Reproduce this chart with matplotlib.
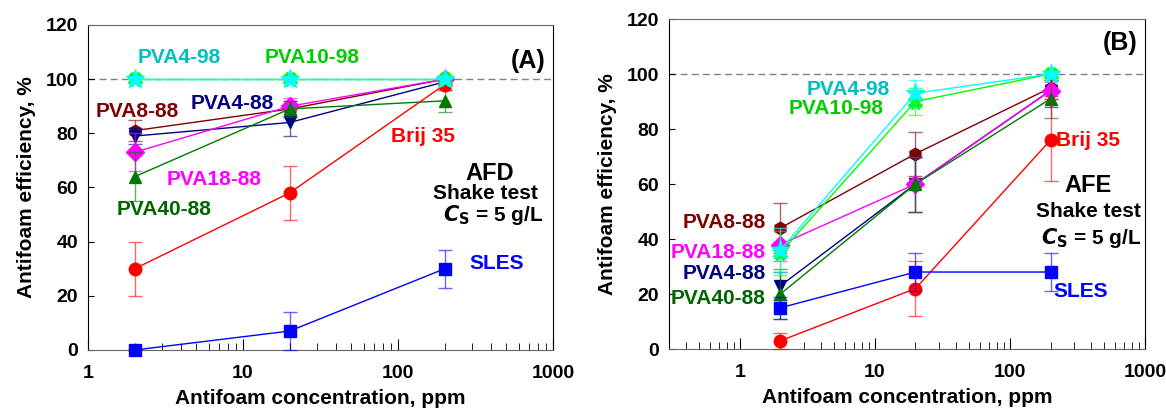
import matplotlib
matplotlib.use("Agg")
import matplotlib.pyplot as plt
from matplotlib.colors import to_rgba

plt.rcParams['font.family'] = ['Liberation Sans', 'DejaVu Sans']
plt.rcParams['font.weight'] = 'bold'

conc = [2, 20, 200]

names = ["PVA8-88", "PVA4-88", "PVA18-88", "PVA40-88", "Brij 35", "SLES", "PVA10-98", "PVA4-98"]
colors = ["#800000", "#000080", "#ff00ff", "#007a00", "#ff0000", "#0000ff", "#00ff00", "#00ffff"]
text_colors = ["#800000", "#000080", "#ff00ff", "#006400", "#ff0000", "#0000ff", "#00cc00", "#00bfbf"]
markers = ["h", "v", "D", "^", "o", "s", "X", "*"]

# panel A (AFD)
afd = {
    "PVA8-88": [81, 89, 100],
    "PVA4-88": [79, 84, 99],
    "PVA18-88": [73, 90, 100],
    "PVA40-88": [64, 89, 92],
    "Brij 35": [30, 58, 98],
    "SLES": [0, 7, 30],
    "PVA10-98": [100, 100, 100],
    "PVA4-98": [100, 100, 100],
}
afd_err = {
    "PVA8-88": [4, 3, 0],
    "PVA4-88": [3, 5, 0],
    "PVA18-88": [7, 3, 0],
    "PVA40-88": [9, 3, 4],
    "Brij 35": [10, 10, 2],
    "SLES": [0, 7, 7],
    "PVA10-98": [0, 0, 0],
    "PVA4-98": [0, 0, 0],
}

# panel B (AFE)
afe = {
    "PVA8-88": [44, 71, 95],
    "PVA4-88": [23, 60, 94],
    "PVA18-88": [38, 60, 94],
    "PVA40-88": [20, 60, 91],
    "Brij 35": [3, 22, 76],
    "SLES": [15, 28, 28],
    "PVA10-98": [35, 90, 100],
    "PVA4-98": [36, 93, 100],
}
afe_err = {
    "PVA8-88": [9, 8, 3],
    "PVA4-88": [5, 10, 6],
    "PVA18-88": [6, 10, 3],
    "PVA40-88": [9, 10, 7],
    "Brij 35": [3, 10, 15],
    "SLES": [4, 7, 7],
    "PVA10-98": [8, 5, 0],
    "PVA4-98": [8, 5, 0],
}

# label positions (x, y, ha)
afd_labels = {
    "PVA4-98": (3.9, 108, "center"),
    "PVA10-98": (28, 108, "center"),
    "PVA8-88": (2.07, 88, "center"),
    "PVA4-88": (8.5, 91, "center"),
    "Brij 35": (145, 79, "center"),
    "PVA18-88": (6.5, 63, "center"),
    "PVA40-88": (3.1, 52, "center"),
    "SLES": (436, 32, "center"),
}
afe_labels = {
    "PVA4-98": (6.35, 94.5, "center"),
    "PVA10-98": (5.2, 87.5, "center"),
    "PVA8-88": (0.77, 46, "center"),
    "PVA18-88": (0.69, 35, "center"),
    "PVA4-88": (0.77, 27.5, "center"),
    "PVA40-88": (0.69, 18.5, "center"),
    "Brij 35": (221, 76, "left"),
    "SLES": (209, 21, "left"),
}

fig = plt.figure(figsize=(11.66, 4.17), dpi=100)
axA = fig.add_axes([0.0755, 0.1607, 0.3988, 0.7794])
axB = fig.add_axes([0.5738, 0.163, 0.4082, 0.7914])


def draw(ax, data, err, labels, xmin):
    ax.set_xscale('log')
    ax.set_xlim(xmin, 1000)
    ax.set_ylim(0, 120)
    ax.axhline(100, color='gray', ls=(0, (5, 3)), lw=1, zorder=1)
    for i, n in enumerate(names):
        ms = 14 if markers[i] == '*' else (10 if markers[i] == 'X' else 9)
        ax.errorbar(conc, data[n], yerr=err[n], color=colors[i], lw=1,
                    marker=markers[i], ms=ms, mec=colors[i], capsize=5,
                    elinewidth=1, ecolor=to_rgba(colors[i], 0.6), zorder=3 + i,
                    clip_on=False)
    for i, n in enumerate(names):
        x, y, ha = labels[n]
        ax.text(x, y, n, color=text_colors[i], fontsize=15, fontweight='bold',
                ha=ha, va='center', zorder=20)
    ax.set_yticks([0, 20, 40, 60, 80, 100, 120])
    ax.set_xticks([1, 10, 100, 1000])
    ax.set_xticklabels(["1", "10", "100", "1000"])
    ax.tick_params(axis='both', which='both', direction='in', labelsize=14)
    ax.tick_params(axis='x', which='major', length=8, pad=11)
    ax.tick_params(axis='x', which='minor', length=5)
    ax.tick_params(axis='y', length=4, pad=7)
    for s in ['top', 'bottom']:
        ax.spines[s].set_color('#666666')
    ax.set_xlabel("Antifoam concentration, ppm", fontsize=15, fontweight='bold', labelpad=5)
    ax.set_ylabel("Antifoam efficiency, %", fontsize=15, fontweight='bold', labelpad=7)


draw(axA, afd, afd_err, afd_labels, 1)
draw(axB, afe, afe_err, afe_labels, 0.3)

axA.text(0.983, 0.889, "(A)", transform=axA.transAxes, fontsize=18, fontweight='bold',
         ha='right', va='center')
axA.text(392, 65, "AFD", fontsize=17, fontweight='bold', ha='center', va='center')
axA.text(365, 57.6, "Shake test", fontsize=15, fontweight='bold', ha='center', va='center')
axA.text(409, 50, "$\\mathbf{\\mathit{C}_S}$ = 5 g/L", fontsize=15, fontweight='bold',
         ha='center', va='center')

axB.text(0.985, 0.927, "(B)", transform=axB.transAxes, fontsize=18, fontweight='bold',
         ha='right', va='center')
axB.text(381, 59.6, "AFE", fontsize=17, fontweight='bold', ha='center', va='center')
axB.text(381, 50, "Shake test", fontsize=15, fontweight='bold', ha='center', va='center')
axB.text(401, 40.5, "$\\mathbf{\\mathit{C}_S}$ = 5 g/L", fontsize=15, fontweight='bold',
         ha='center', va='center')

fig.savefig("out.png", dpi=100)
